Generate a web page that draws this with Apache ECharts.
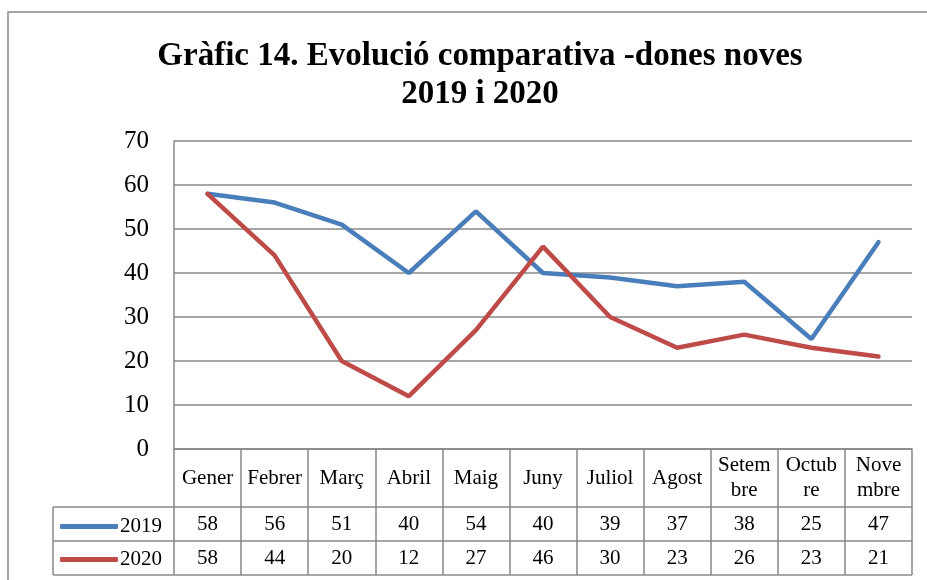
<!DOCTYPE html>
<html>
<head>
<meta charset="utf-8">
<script src="https://cdn.jsdelivr.net/npm/echarts@6/dist/echarts.min.js"></script>
<style>
  html, body { margin: 0; padding: 0; background: #fff; }
  #chart { width: 927px; height: 580px; }
</style>
</head>
<body>
<div id="chart"></div>
<script>
// data
var months = ['Gener', 'Febrer', 'Març', 'Abril', 'Maig', 'Juny', 'Juliol', 'Agost', 'Setem\nbre', 'Octub\nre', 'Nove\nmbre'];
var values2019 = [58, 56, 51, 40, 54, 40, 39, 37, 38, 25, 47];
var values2020 = [58, 44, 20, 12, 27, 46, 30, 23, 26, 23, 21];
var seriesNames = ['2019', '2020'];
var yTicks = [0, 10, 20, 30, 40, 50, 60, 70];

var serif = '"Liberation Serif", "Times New Roman", serif';
var gray = '#888888';
var blue = '#4A7EBB';
var red = '#BE4B48';

// layout of plot + data table
var plotLeft = 174, plotRight = 912, plotTop = 141, plotBottom = 449;
var row1 = 507, row2 = 541, row3 = 575, legendLeft = 53;

var chart = echarts.init(document.getElementById('chart'));

function valueAxis(vals, margin) {
  return {
    type: 'category',
    data: months,
    position: 'bottom',
    gridIndex: 0,
    axisLine: { show: false },
    axisTick: { show: false },
    axisLabel: {
      interval: 0,
      margin: margin,
      verticalAlign: 'middle',
      fontFamily: serif,
      fontSize: 21,
      color: '#000',
      formatter: function (v, i) { return String(vals[i]); }
    }
  };
}

var option = {
  backgroundColor: '#fff',
  animation: false,
  title: {
    text: 'Gràfic 14. Evolució comparativa -dones noves\n2019 i 2020',
    left: 475,
    textAlign: 'center',
    top: 32,
    textStyle: {
      fontFamily: serif,
      fontWeight: 'bold',
      fontSize: 33,
      lineHeight: 38,
      color: '#000'
    }
  },
  legend: {
    orient: 'vertical',
    left: 55,
    top: 511,
    itemGap: 12,
    itemWidth: 58,
    itemHeight: 5,
    icon: 'roundRect',
    data: seriesNames,
    textStyle: { fontFamily: serif, fontSize: 21, color: '#000', padding: [0, 0, 0, -3] }
  },
  grid: {
    left: plotLeft,
    right: 927 - plotRight,
    top: plotTop,
    bottom: 580 - plotBottom
  },
  xAxis: [
    {
      type: 'category',
      data: months,
      boundaryGap: true,
      axisLine: { show: true, lineStyle: { color: gray, width: 1.5 } },
      axisTick: { show: true, interval: 0, length: row3 - plotBottom, lineStyle: { color: gray, width: 1.5 } },
      axisLabel: {
        interval: 0,
        margin: 29,
        verticalAlign: 'middle',
        fontFamily: serif,
        fontSize: 21,
        lineHeight: 25,
        color: '#000'
      }
    },
    valueAxis(values2019, row1 + (row2 - row1) / 2 - plotBottom),
    valueAxis(values2020, row2 + (row3 - row2) / 2 - plotBottom)
  ],
  yAxis: {
    type: 'value',
    min: yTicks[0],
    max: yTicks[yTicks.length - 1],
    interval: 10,
    axisLine: { show: true, lineStyle: { color: gray, width: 1.5 } },
    axisTick: { show: false },
    axisLabel: { margin: 25, fontFamily: serif, fontSize: 25, color: '#000' },
    splitLine: { show: true, lineStyle: { color: gray, width: 1.5 } }
  },
  series: [
    {
      name: seriesNames[0],
      type: 'line',
      data: values2019,
      showSymbol: false,
      lineStyle: { color: blue, width: 4.5, cap: 'round' },
      itemStyle: { color: blue }
    },
    {
      name: seriesNames[1],
      type: 'line',
      data: values2020,
      showSymbol: false,
      lineStyle: { color: red, width: 4.5, cap: 'round' },
      itemStyle: { color: red }
    }
  ],
  graphic: [
    // outer chart frame
    { type: 'rect', shape: { x: 8, y: 12, width: 940, height: 600 }, style: { fill: null, stroke: gray, lineWidth: 1.5 }, silent: true },
    // data table rules
    { type: 'line', shape: { x1: legendLeft, y1: row1, x2: plotRight, y2: row1 }, style: { stroke: gray, lineWidth: 1.5 } },
    { type: 'line', shape: { x1: legendLeft, y1: row2, x2: plotRight, y2: row2 }, style: { stroke: gray, lineWidth: 1.5 } },
    { type: 'line', shape: { x1: legendLeft, y1: row3, x2: plotRight, y2: row3 }, style: { stroke: gray, lineWidth: 1.5 } },
    { type: 'line', shape: { x1: legendLeft, y1: row1, x2: legendLeft, y2: row3 }, style: { stroke: gray, lineWidth: 1.5 } }
  ]
};

chart.setOption(option);
</script>
</body>
</html>
